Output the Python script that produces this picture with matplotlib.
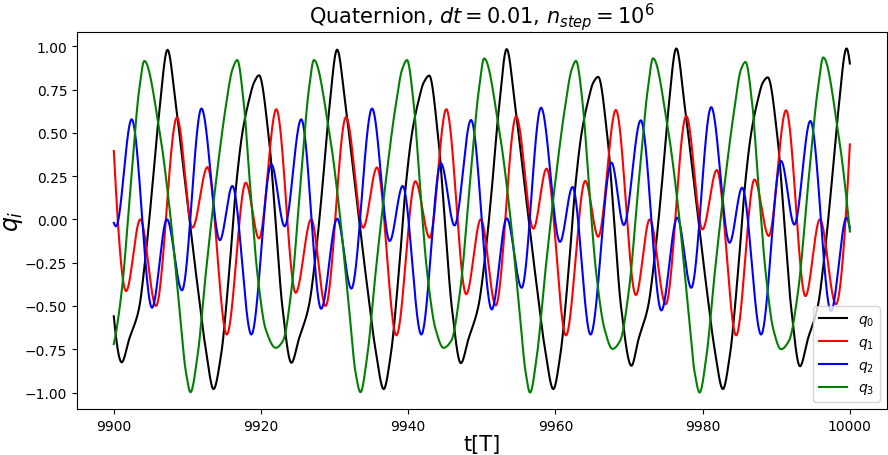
import numpy as np
import matplotlib
matplotlib.use("Agg")
import matplotlib.pyplot as plt

# ---------------- data ----------------
t_q0 = [9900.0, 9901.07, 9902.1, 9903.4, 9904.3, 9905.2, 9906.15, 9907.3,
        9908.45, 9909.8, 9911.15, 9912.5, 9913.55, 9914.55, 9915.67, 9916.57,
        9917.47, 9918.38, 9919.05, 9919.73, 9921.09, 9922.0, 9922.89, 9924.13,
        9925.15, 9926.5, 9927.42, 9928.31, 9929.22, 9930.34,
        9931.49, 9932.84, 9934.19, 9935.55, 9936.67, 9937.6, 9938.72, 9939.62,
        9940.52, 9941.43, 9942.1, 9942.86, 9944.1, 9945.0, 9945.9, 9947.15,
        9948.19, 9949.54, 9950.46, 9951.35, 9952.26, 9953.38,
        9954.53, 9955.88, 9957.23, 9958.59, 9959.71, 9960.64, 9961.76, 9962.66,
        9963.56, 9964.47, 9965.14, 9965.81, 9967.1, 9968.0, 9968.9, 9970.32,
        9971.3, 9972.6, 9973.5, 9974.4, 9975.3, 9976.42,
        9977.57, 9978.92, 9980.27, 9981.63, 9982.75, 9983.68, 9984.8, 9985.7,
        9986.6, 9987.5, 9988.18, 9988.85, 9990.2, 9991.1, 9992.0, 9993.22,
        9994.3, 9995.65, 9996.55, 9997.45, 9998.4, 9999.55, 10000.0]
v_q0 = [-0.56, -0.825, -0.69, -0.52, -0.22, 0.17, 0.61, 0.979,
        0.653, 0.173, -0.307, -0.75, -0.98, -0.79, -0.307, 0.173,
        0.50, 0.69, 0.79, 0.832, 0.46, -0.02, -0.50, -0.828,
        -0.69, -0.50, -0.21, 0.173, 0.615, 0.98,
        0.653, 0.173, -0.307, -0.75, -0.98, -0.79, -0.307, 0.173,
        0.50, 0.69, 0.79, 0.83, 0.46, -0.02, -0.50, -0.83,
        -0.69, -0.50, -0.21, 0.173, 0.615, 0.983,
        0.653, 0.173, -0.307, -0.75, -0.98, -0.79, -0.307, 0.173,
        0.50, 0.69, 0.79, 0.823, 0.46, -0.02, -0.50, -0.845,
        -0.69, -0.50, -0.21, 0.173, 0.615, 0.987,
        0.653, 0.173, -0.307, -0.75, -0.98, -0.79, -0.307, 0.173,
        0.50, 0.69, 0.79, 0.82, 0.46, -0.02, -0.50, -0.848,
        -0.69, -0.50, -0.21, 0.173, 0.615, 0.987, 0.90]

t_q1 = [9900.0, 9901.67, 9903.6, 9905.73, 9908.58, 9910.69, 9912.73, 9915.35,
        9917.93, 9919.73, 9922.08, 9924.71, 9926.82, 9928.77, 9931.55, 9933.87,
        9935.76, 9938.39, 9940.97, 9942.91, 9945.17, 9947.88, 9949.86, 9951.89,
        9954.66, 9957.0, 9958.8, 9961.43, 9964.05, 9965.81, 9968.21, 9970.92,
        9972.81, 9974.98, 9977.77, 9979.97, 9981.93, 9984.55, 9987.04, 9988.98,
        9991.33, 9993.96, 9995.93, 9998.1, 10000.0]
v_q1 = [0.395, -0.414, 0.0, -0.50, 0.588, -0.048, 0.302, -0.665,
        0.212, -0.11, 0.636, -0.424, 0.0, -0.50, 0.59, -0.048,
        0.30, -0.67, 0.22, -0.106, 0.636, -0.432, 0.0, -0.497,
        0.594, -0.054, 0.293, -0.67, 0.222, -0.10, 0.632, -0.437,
        0.0, -0.49, 0.597, -0.058, 0.285, -0.67, 0.23, -0.096,
        0.63, -0.443, 0.0, -0.49, 0.433]

t_q2 = [9900.0, 9900.3, 9902.43, 9905.19, 9907.22, 9909.26, 9911.91, 9914.41,
        9916.11, 9918.69, 9921.4, 9923.21, 9925.46, 9928.17, 9930.34, 9932.27,
        9935.09, 9937.48, 9939.25, 9941.78, 9944.44, 9946.29, 9948.53, 9951.35,
        9953.38, 9955.41, 9958.04, 9960.62, 9962.32, 9964.77, 9967.61, 9969.29,
        9971.59, 9974.39, 9976.55, 9978.45, 9981.16, 9983.66, 9985.36, 9987.94,
        9990.65, 9992.46, 9994.63, 9997.43, 9999.55, 10000.0]
v_q2 = [-0.02, -0.04, 0.578, -0.51, 0.0, -0.41, 0.64, -0.12,
        0.193, -0.665, 0.318, -0.04, 0.578, -0.516, 0.004, -0.40,
        0.64, -0.125, 0.193, -0.665, 0.324, -0.035, 0.574, -0.52,
        0.006, -0.395, 0.645, -0.13, 0.187, -0.665, 0.328, -0.033,
        0.572, -0.526, 0.01, -0.395, 0.648, -0.135, 0.183, -0.665,
        0.337, -0.03, 0.568, -0.53, 0.01, -0.05]

t_q3 = [9900.0, 9901.06, 9902.4, 9903.45, 9904.15, 9906.18, 9907.54, 9908.89,
        9909.8, 9910.42, 9911.37, 9912.51, 9913.86, 9915.22, 9916.11, 9916.77,
        9917.7, 9918.38, 9919.5, 9920.64, 9922.0, 9923.0, 9924.1, 9925.45,
        9926.5, 9927.19,
        9929.22, 9930.58, 9931.93, 9932.84, 9933.51, 9934.43, 9935.57, 9936.92,
        9938.28, 9939.17, 9939.83, 9940.78, 9941.46, 9942.58, 9943.72, 9944.8,
        9945.86, 9947.03, 9948.47, 9949.6, 9950.32,
        9952.35, 9953.71, 9955.06, 9955.95, 9956.55, 9957.47, 9958.61, 9959.96,
        9961.32, 9962.2, 9962.79, 9963.74, 9964.42, 9965.54, 9966.68, 9967.75,
        9968.8, 9969.95, 9971.39, 9972.54, 9973.26,
        9975.29, 9976.65, 9978.0, 9978.91, 9979.59, 9980.51, 9981.65, 9983.0,
        9984.36, 9985.2, 9985.82, 9986.77, 9987.45, 9988.57, 9989.6, 9990.65,
        9991.74, 9992.95, 9994.44, 9995.64, 9996.39, 9998.42, 10000.0]
v_q3 = [-0.72, -0.42, 0.25, 0.75, 0.915, 0.52, 0.077, -0.50,
        -0.883, -0.998, -0.79, -0.307, 0.21, 0.653, 0.865, 0.92,
        0.653, 0.27, -0.31, -0.635, -0.742, -0.70, -0.42, 0.25,
        0.75, 0.92,
        0.52, 0.077, -0.50, -0.883, -0.998, -0.79, -0.307, 0.21,
        0.653, 0.865, 0.92, 0.653, 0.27, -0.31, -0.635, -0.742,
        -0.70, -0.42, 0.25, 0.75, 0.929,
        0.52, 0.077, -0.50, -0.883, -1.0, -0.79, -0.307, 0.21,
        0.653, 0.865, 0.915, 0.653, 0.27, -0.31, -0.635, -0.748,
        -0.70, -0.42, 0.25, 0.75, 0.93,
        0.52, 0.077, -0.50, -0.883, -1.0, -0.79, -0.307, 0.21,
        0.653, 0.865, 0.909, 0.653, 0.27, -0.31, -0.635, -0.75,
        -0.70, -0.42, 0.25, 0.75, 0.935, 0.50, -0.07]

labels = ["$q_0$", "$q_1$", "$q_2$", "$q_3$"]
colors = ["black", "red", "blue", "green"]


# ---------------- smooth rendering through the read points ----------------
def _pchip_slopes(x, y):
    h = np.diff(x)
    d = np.diff(y) / h
    n = len(x)
    m = np.zeros(n)
    for k in range(1, n - 1):
        if d[k - 1] * d[k] <= 0:
            m[k] = 0.0
        else:
            w1 = 2 * h[k] + h[k - 1]
            w2 = h[k] + 2 * h[k - 1]
            m[k] = (w1 + w2) / (w1 / d[k - 1] + w2 / d[k])

    def end(h0, h1, d0, d1):
        s = ((2 * h0 + h1) * d0 - h0 * d1) / (h0 + h1)
        if np.sign(s) != np.sign(d0):
            s = 0.0
        elif np.sign(d0) != np.sign(d1) and abs(s) > abs(3 * d0):
            s = 3 * d0
        return s

    m[0] = end(h[0], h[1], d[0], d[1])
    m[-1] = end(h[-1], h[-2], d[-1], d[-2])
    return m


def smooth(x, y, num=4000):
    x = np.asarray(x, float)
    y = np.asarray(y, float)
    m = _pchip_slopes(x, y)
    xn = np.linspace(x[0], x[-1], num)
    idx = np.clip(np.searchsorted(x, xn) - 1, 0, len(x) - 2)
    h = x[idx + 1] - x[idx]
    s = (xn - x[idx]) / h
    h00 = 2 * s**3 - 3 * s**2 + 1
    h10 = s**3 - 2 * s**2 + s
    h01 = -2 * s**3 + 3 * s**2
    h11 = s**3 - s**2
    yn = h00 * y[idx] + h10 * h * m[idx] + h01 * y[idx + 1] + h11 * h * m[idx + 1]
    return xn, yn


fig = plt.figure(figsize=(8.88, 4.56), dpi=100)
ax = fig.add_axes([0.0867, 0.1009, 0.9118, 0.8267])

series = [(t_q0, v_q0), (t_q1, v_q1), (t_q2, v_q2), (t_q3, v_q3)]
for (tt, vv), lab, col in zip(series, labels, colors):
    xs, ys = smooth(tt, vv)
    ax.plot(xs, ys, color=col, lw=1.5, label=lab)

ax.set_xlim(9895, 10005)
ax.set_ylim(-1.095, 1.082)
ax.set_xticks([9900, 9920, 9940, 9960, 9980, 10000])
ax.set_yticks([-1.0, -0.75, -0.5, -0.25, 0.0, 0.25, 0.5, 0.75, 1.0])
ax.set_title("Quaternion, $dt = 0.01$, $n_{step} = 10^6$", fontsize=15)
ax.set_xlabel("t[T]", fontsize=15, labelpad=1)
ax.set_ylabel("$q_i$", fontsize=17, labelpad=0)
ax.legend(loc="lower right")

fig.savefig("out.png", dpi=100)
